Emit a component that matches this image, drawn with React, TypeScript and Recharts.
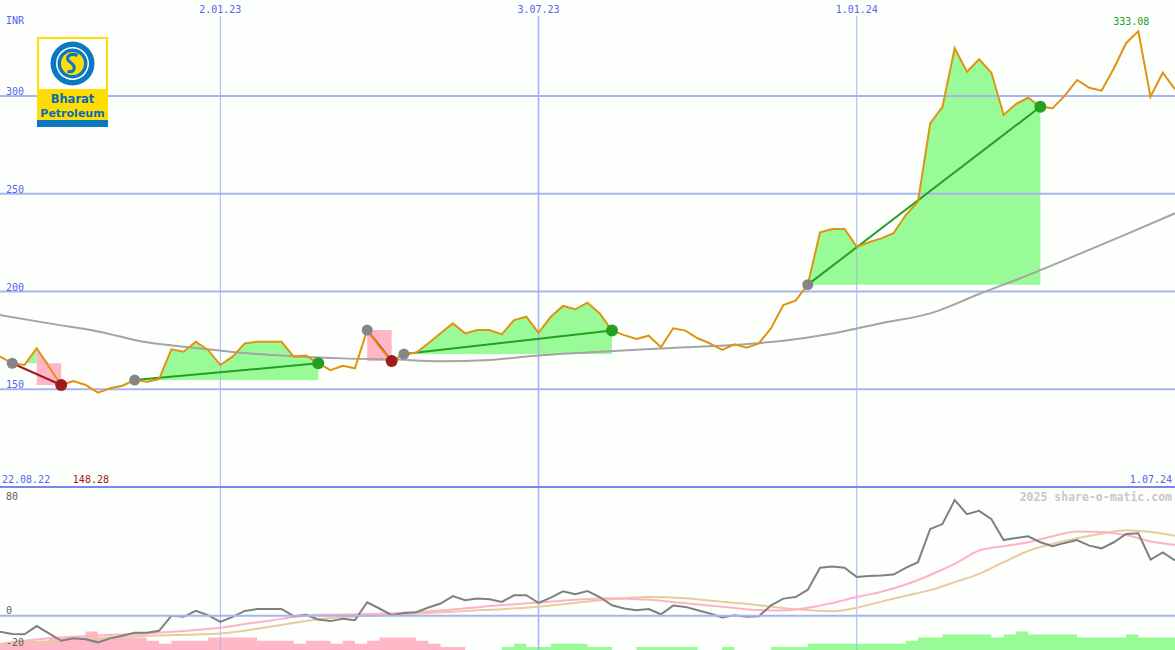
import React from 'react';
import { ComposedChart, Line, Area, XAxis, YAxis, ReferenceLine, ReferenceDot } from 'recharts';

// ---------------- data ----------------
// weekly closes, week 0 = 29.08.22 ... week 96 = 1.07.24
const closePrices = [
  166.7, 163.3, 162.4, 171.0, 161.5, 152.2, 154.2, 152.2, 148.28, 150.5,
  151.8, 154.7, 153.9, 155.2, 170.4, 169.2, 174.3, 170.1, 162.4, 166.7,
  173.5, 174.3, 174.3, 174.3, 166.7, 167.2, 163.3, 159.8, 162.0, 160.7,
  180.3, 171.8, 164.4, 168.0, 168.7, 173.5, 178.6, 183.7, 178.6, 180.3,
  180.3, 178.1, 185.4, 187.1, 178.9, 187.1, 192.6, 190.9, 194.3, 188.8,
  180.0, 177.7, 175.7, 177.4, 171.5, 181.2, 180.0, 176.1, 173.5, 170.1,
  173.0, 171.3, 173.5, 181.2, 193.1, 195.3, 203.5, 230.3, 232.0, 232.0,
  222.9, 225.2, 227.2, 229.8, 239.1, 245.9, 286.0, 294.5, 324.4, 312.4,
  318.8, 311.9, 290.3, 295.9, 299.1, 294.5, 293.7, 300.2, 308.2, 304.2,
  302.7, 314.1, 327.0, 333.08, 299.7, 311.9, 303.4,
];

const priceMaWeeks = [0, 4, 8, 12, 16, 20, 24, 28, 32, 36, 40, 44, 48, 52, 56, 60, 64, 68, 72, 76, 80, 84, 88, 92, 96];
const priceMaValues = [188.0, 183.7, 179.6, 174.0, 171.1, 168.5, 166.9, 165.8, 165.3, 164.3, 165.0, 167.3, 168.8, 170.2, 171.5, 172.7, 174.8, 178.5, 183.8, 188.8, 198.7, 208.4, 218.7, 229.2, 240.0];

const oscillator = [
  -10.1, -11.5, -11.7, -6.5, -11.1, -15.7, -14.2, -14.8, -16.7, -14.2,
  -12.6, -10.7, -10.7, -9.5, -0.1, -0.7, 3.0, 0.3, -3.9, -0.7,
  3.0, 4.2, 4.2, 4.2, -0.3, 0.5, -2.4, -3.4, -2.0, -2.8,
  8.4, 4.5, 0.3, 1.7, 2.2, 5.1, 7.6, 12.3, 9.7, 10.7,
  10.3, 8.6, 12.8, 12.8, 8.0, 11.3, 15.3, 13.4, 15.4, 11.7,
  6.5, 4.5, 3.4, 4.2, 0.9, 6.3, 5.5, 3.4, 1.4, -1.1,
  0.3, -0.7, -0.3, 6.5, 10.7, 11.7, 16.3, 30.0, 30.8, 30.0,
  24.2, 24.8, 25.2, 25.8, 30.0, 33.5, 54.3, 57.4, 72.4, 63.6,
  65.7, 60.5, 47.4, 48.7, 49.7, 46.0, 43.5, 45.6, 47.4, 43.9,
  42.2, 46.0, 51.2, 51.6, 35.2, 39.7, 34.6,
];

const oscFastWeeks = [0, 4, 8, 12, 16, 18, 20, 22, 24, 26, 30, 33, 36, 38, 40, 44, 47, 50, 53, 56, 59, 62, 64, 66, 68, 70, 72, 74, 76, 78, 80, 82, 84, 86, 88, 90, 92, 94, 96];
const oscFastValues = [-17.7, -14.2, -12.4, -11.1, -9.0, -7.6, -5.2, -3.2, -0.8, 0.6, 1.0, 1.9, 3.3, 4.6, 6.0, 8.2, 10.0, 11.0, 10.0, 7.8, 5.6, 3.5, 3.3, 5.0, 8.0, 11.7, 15.0, 19.5, 25.5, 32.5, 40.8, 43.5, 46.0, 49.8, 52.8, 52.5, 50.5, 46.5, 44.5];

const oscSlowWeeks = [0, 6, 12, 18, 22, 26, 29, 33, 38, 44, 50, 53, 56, 59, 62, 65, 68, 70, 72, 74, 76, 78, 80, 82, 84, 86, 88, 90, 92, 94, 96];
const oscSlowValues = [-18.8, -14.8, -12.6, -11.2, -7.0, -2.2, -0.5, 0.9, 2.9, 5.6, 10.3, 11.7, 10.9, 8.7, 6.6, 4.0, 2.8, 5.0, 8.8, 12.5, 16.0, 21.0, 26.2, 33.5, 40.5, 45.0, 48.5, 51.3, 53.5, 52.4, 50.1];

// histogram per week (negative = pink, positive = green), in steps
const histogram = [
  -2, -3, -3, -3, -4, -4, -4, -6, -4, -4,
  -4, -4, -3, -2, -3, -3, -3, -4, -4, -4,
  -4, -3, -3, -3, -2, -3, -3, -2, -3, -2,
  -3, -4, -4, -4, -3, -2, -1, -1, 0, 0,
  0, 1, 2, 1, 1, 2, 2, 2, 1, 1,
  0, 0, 1, 1, 1, 1, 1, 0, 0, 1,
  0, 0, 0, 1, 1, 1, 2, 2, 2, 2,
  2, 2, 2, 2, 3, 4, 4, 5, 5, 5,
  5, 4, 5, 6, 5, 5, 5, 5, 4, 4,
  4, 4, 5, 4, 4, 4,
];

const trades = [
  { entry: 1, exit: 5 },
  { entry: 11, exit: 26 },
  { entry: 30, exit: 32 },
  { entry: 33, exit: 50 },
  { entry: 66, exit: 85 },
];

const dateTickWeeks = [18, 44, 70];
const dateTickLabels = ['2.01.23', '3.07.23', '1.01.24'];
const priceTicks = [150, 200, 250, 300];
const oscTicks = [80, 0, -20];
const priceFloor = 100;
const currencyLabel = 'INR';
const startDateLabel = '22.08.22';
const endDateLabel = '1.07.24';
const watermark = '2025 share-o-matic.com';

// ---------------- styles ----------------
const W = 1175;
const TOP_H = 488;
const BOT_H = 162;
const BG = '#fdfffd';
const GRID = '#a8b4f0';
const BLUE_TEXT = '#5563f0';
const FONT = '"DejaVu Sans Mono", monospace';
const ORANGE = '#df9410';
const WIN = '#22a022';
const LOSS = '#a01c1c';
const dateLineWidths = [1, 1.6, 1];
const PRICE_DOMAIN: [number, number] = [99.5, 349.1];
const MARGIN = { top: 0, right: 0, bottom: 0, left: 0 };

// ---------------- table ----------------
const rows: any[] = closePrices.map((p, i) => {
  const h = histogram[Math.min(i, histogram.length - 1)];
  return {
    i,
    price: p,
    osc: oscillator[i],
    histNeg: h < 0 ? -h : 0,
    histPos: h > 0 ? h : 0,
  };
});
priceMaWeeks.forEach((w, k) => { rows[w].ma = priceMaValues[k]; });
oscFastWeeks.forEach((w, k) => { rows[w].oscFast = oscFastValues[k]; });
oscSlowWeeks.forEach((w, k) => { rows[w].oscSlow = oscSlowValues[k]; });

const tradeInfo = trades.map((t, n) => {
  const ep = closePrices[t.entry];
  const xp = closePrices[t.exit];
  const win = xp >= ep;
  rows[t.entry][`tl${n}`] = ep;
  rows[t.exit][`tl${n}`] = xp;
  if (win) {
    for (let i = t.entry; i <= t.exit; i++) rows[i].gain = [ep, Math.max(closePrices[i], ep)];
  } else {
    let peak = t.entry;
    for (let i = t.entry; i <= t.exit; i++) if (closePrices[i] > closePrices[peak]) peak = i;
    for (let i = t.entry; i <= peak; i++) rows[i].gain = [ep, Math.max(closePrices[i], ep)];
    for (let i = peak; i <= t.exit; i++) rows[i].loss = [xp, Math.max(closePrices[i], ep)];
  }
  return { ...t, ep, xp, win, key: `tl${n}` };
});

let minIdx = 0;
let maxIdx = 0;
closePrices.forEach((p, i) => {
  if (p < closePrices[minIdx]) minIdx = i;
  if (p > closePrices[maxIdx]) maxIdx = i;
});

const txt = (fill: string, size = 10) => ({ fill, fontSize: size, fontFamily: FONT });

function Logo() {
  return (
    <g>
      <rect x={37} y={37} width={71} height={90} fill="#ffdd00" />
      <rect x={39} y={39} width={67} height={50} fill="#ffffff" />
      <circle cx={72.5} cy={63.5} r={22} fill="#0b78c2" />
      <circle cx={72.5} cy={63.5} r={16.5} fill="#ffffff" />
      <circle cx={72.5} cy={63.5} r={15} fill="#0b78c2" />
      <circle cx={72.5} cy={63.5} r={11.5} fill="#ffdd00" />
      <path d="M 77.5 55.5 C 70 52, 64 58, 70 62 C 76 66, 76 73, 67.5 71.5" stroke="#0b78c2" strokeWidth={3.2} fill="none" />
      <text x={72.5} y={103} textAnchor="middle" fill="#0b6cb8" fontSize={11.5} fontWeight="bold" fontFamily='"DejaVu Sans", sans-serif'>Bharat</text>
      <text x={72.5} y={117} textAnchor="middle" fill="#0b6cb8" fontSize={11} fontWeight="bold" fontFamily='"DejaVu Sans", sans-serif'>Petroleum</text>
      <rect x={37} y={120} width={71} height={7} fill="#0b78c2" />
    </g>
  );
}

const layer = (top: number): React.CSSProperties => ({ position: 'absolute', left: 0, top });

export default function App() {
  const labelZ: any = { zIndex: 2000 };
  return (
    <div style={{ position: 'absolute', left: 0, top: 0, width: W, height: 650, background: BG, overflow: 'hidden' }}>
      {/* top panel, layer 1: trade fills */}
      <div style={layer(0)}>
        <ComposedChart width={W} height={TOP_H} data={rows} margin={MARGIN}>
          <XAxis dataKey="i" type="number" domain={[0, 96]} hide allowDataOverflow />
          <YAxis domain={PRICE_DOMAIN} hide allowDataOverflow />
          <Area type="linear" dataKey="gain" stroke="none" fill="#98fb98" fillOpacity={1} activeDot={false} isAnimationActive={false} />
          <Area type="linear" dataKey="loss" stroke="none" fill="#ffb6c6" fillOpacity={1} activeDot={false} isAnimationActive={false} />
        </ComposedChart>
      </div>
      {/* top panel, layer 2: grid, lines, markers */}
      <div style={layer(0)}>
        <ComposedChart width={W} height={TOP_H} data={rows} margin={MARGIN}>
          <XAxis dataKey="i" type="number" domain={[0, 96]} hide allowDataOverflow />
          <YAxis domain={PRICE_DOMAIN} hide allowDataOverflow />
          {priceTicks.map((t) => (
            <ReferenceLine key={`p${t}`} y={t} stroke={GRID} strokeWidth={2}
              label={(p: any) => (
                <text x={p.viewBox.x + 6} y={p.viewBox.y - 1} {...txt(BLUE_TEXT)}>{t}</text>
              )} />
          ))}
          {dateTickWeeks.map((w, k) => (
            <ReferenceLine key={`d${w}`} x={w} stroke={GRID} strokeWidth={dateLineWidths[k]}
              label={(p: any) => (
                <g>
                  <rect x={p.viewBox.x - 26} y={0} width={52} height={16} fill={BG} />
                  <text x={p.viewBox.x} y={13} textAnchor="middle" {...txt(BLUE_TEXT)}>{dateTickLabels[k]}</text>
                </g>
              )} />
          ))}
          <ReferenceLine y={priceFloor} stroke="#7888e8" strokeWidth={2} />
          <Line type="monotone" dataKey="ma" stroke="#a4a4a4" strokeWidth={2} dot={false} activeDot={false} connectNulls isAnimationActive={false} />
          {tradeInfo.map((t) => (
            <Line key={t.key} type="linear" dataKey={t.key} stroke={t.win ? WIN : LOSS} strokeWidth={2} dot={false} activeDot={false} connectNulls isAnimationActive={false} />
          ))}
          <Line type="linear" dataKey="price" stroke={ORANGE} strokeWidth={2} dot={false} activeDot={false} isAnimationActive={false} />
          {tradeInfo.map((t) => (
            <ReferenceDot key={`e${t.key}`} x={t.entry} y={t.ep} r={5.5} fill="#858585" stroke="none" />
          ))}
          {tradeInfo.map((t) => (
            <ReferenceDot key={`x${t.key}`} x={t.exit} y={t.xp} r={6} fill={t.win ? WIN : LOSS} stroke="none" />
          ))}
          <ReferenceDot x={minIdx} y={closePrices[minIdx]} r={1} fill="none" stroke="none"
            label={(p: any) => (
              <text x={p.viewBox.x + 1 - 7} y={483} textAnchor="middle" {...txt('#a01818')}>{closePrices[minIdx].toFixed(2)}</text>
            )} />
          <ReferenceDot x={maxIdx} y={closePrices[maxIdx]} r={1} fill="none" stroke="none"
            label={(p: any) => (
              <text x={p.viewBox.x + 1 - 7} y={p.viewBox.y - 5} textAnchor="middle" {...txt(WIN)}>{closePrices[maxIdx].toFixed(2)}</text>
            )} />
        </ComposedChart>
      </div>
      {/* bottom oscillator panel */}
      <div style={layer(TOP_H)}>
        <ComposedChart width={W} height={BOT_H} data={rows} margin={MARGIN}>
          <XAxis dataKey="i" type="number" domain={[0, 96]} hide allowDataOverflow />
          <YAxis yAxisId="osc" domain={[-21.5, 80]} hide allowDataOverflow />
          <YAxis yAxisId="hist" domain={[0, 52.3]} hide allowDataOverflow />
          {dateTickWeeks.map((w, k) => (
            <ReferenceLine key={`bd${w}`} yAxisId="osc" x={w} stroke={GRID} strokeWidth={dateLineWidths[k]} />
          ))}
          <Area yAxisId="hist" type="stepAfter" dataKey="histNeg" stroke="none" fill="#ffb6c6" fillOpacity={1} activeDot={false} isAnimationActive={false} />
          <Area yAxisId="hist" type="stepAfter" dataKey="histPos" stroke="none" fill="#98fb98" fillOpacity={1} activeDot={false} isAnimationActive={false} />
          {oscTicks.map((t, k) => (
            <ReferenceLine key={`o${t}`} {...labelZ} yAxisId="osc" y={t} stroke={t === 0 ? GRID : 'none'} strokeWidth={2} ifOverflow="visible"
              label={(p: any) => (
                <text x={p.viewBox.x + 6} y={k === 0 ? p.viewBox.y + 12 : p.viewBox.y - 2} {...txt('#606060')}>{t}</text>
              )} />
          ))}
          <Line yAxisId="osc" type="monotone" dataKey="oscSlow" stroke="#e6cc9e" strokeWidth={2} dot={false} activeDot={false} connectNulls isAnimationActive={false} />
          <Line yAxisId="osc" type="monotone" dataKey="oscFast" stroke="#ffb2c6" strokeWidth={2} dot={false} activeDot={false} connectNulls isAnimationActive={false} />
          <Line yAxisId="osc" type="linear" dataKey="osc" stroke="#808080" strokeWidth={2} dot={false} activeDot={false} isAnimationActive={false} />
        </ComposedChart>
      </div>
      <svg width={W} height={650} style={{ position: 'absolute', left: 0, top: 0, pointerEvents: 'none' }}>
        <Logo />
        <text x={6} y={24} {...txt(BLUE_TEXT)}>{currencyLabel}</text>
        <text x={2} y={483} {...txt(BLUE_TEXT)}>{startDateLabel}</text>
        <text x={1172} y={483} textAnchor="end" {...txt(BLUE_TEXT)}>{endDateLabel}</text>
        <text x={1172} y={501} textAnchor="end" fontWeight="bold" {...txt('#c8c8c8', 11.5)}>{watermark}</text>
      </svg>
    </div>
  );
}
